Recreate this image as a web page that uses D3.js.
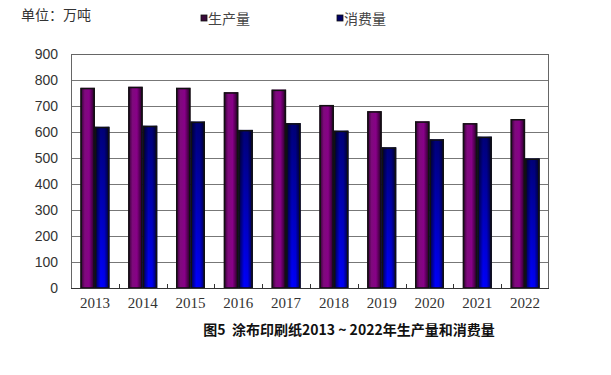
<!DOCTYPE html>
<html>
<head>
<meta charset="utf-8">
<script src="https://cdn.jsdelivr.net/npm/d3@7"></script>
<style>
  body { margin: 0; background: #fff; }
  svg { display: block; }
</style>
</head>
<body>
<svg id="chart" width="611" height="375"></svg>
<script>
// data (万吨)
var years = ['2013','2014','2015','2016','2017','2018','2019','2020','2021','2022'];
var production = [770, 774, 770, 753, 763, 704, 680, 641, 634, 650];
var consumption = [620, 624, 640, 608, 634, 605, 541, 572, 582, 498];
var seriesNames = ['生产量', '消费量'];
var yTicks = [0, 100, 200, 300, 400, 500, 600, 700, 800, 900];

var svg = d3.select('#chart');
var margin = {left: 71, right: 62, top: 54, bottom: 87};
var W = 611, H = 375;

var x = d3.scaleBand().domain(years).range([margin.left, W - margin.right]);
var y = d3.scaleLinear().domain([0, 900]).range([H - margin.bottom, margin.top]);

var defs = svg.append('defs');

// purple, shaded across like a tube
var gp = defs.append('linearGradient').attr('id', 'gProd');
gp.append('stop').attr('offset', '0%').attr('stop-color', '#2a002a');
gp.append('stop').attr('offset', '30%').attr('stop-color', '#7e0a7c');
gp.append('stop').attr('offset', '60%').attr('stop-color', '#880088');
gp.append('stop').attr('offset', '100%').attr('stop-color', '#1a001a');

// blue, dark at top and bright at the foot
var gc = defs.append('linearGradient').attr('id', 'gCons')
  .attr('x1', 0).attr('y1', 0).attr('x2', 0).attr('y2', 1);
gc.append('stop').attr('offset', '0%').attr('stop-color', '#000078');
gc.append('stop').attr('offset', '100%').attr('stop-color', '#0000ff');

var gs = defs.append('linearGradient').attr('id', 'gShade');
gs.append('stop').attr('offset', '0%').attr('stop-color', '#000').attr('stop-opacity', 0.75);
gs.append('stop').attr('offset', '40%').attr('stop-color', '#000').attr('stop-opacity', 0);
gs.append('stop').attr('offset', '65%').attr('stop-color', '#000').attr('stop-opacity', 0.05);
gs.append('stop').attr('offset', '100%').attr('stop-color', '#000').attr('stop-opacity', 0.75);

// grid lines
svg.append('g').selectAll('line').data(yTicks.slice(1)).join('line')
  .attr('x1', margin.left).attr('x2', W - margin.right)
  .attr('y1', function(d){ return y(d); }).attr('y2', function(d){ return y(d); })
  .attr('stroke', '#777').attr('stroke-width', 1).attr('shape-rendering', 'crispEdges');

// y axis labels
var yAxis = d3.axisLeft(y).tickValues(yTicks).tickSize(0).tickPadding(13);
var ya = svg.append('g').attr('transform', 'translate(' + margin.left + ',0)').call(yAxis);
ya.select('.domain').remove();
ya.selectAll('text').attr('font-family', 'Liberation Sans, Arial, sans-serif')
  .attr('font-size', 14).attr('fill', '#333');

// bars
var inner = d3.scaleBand().domain([0, 1]).range([0, 29]);
var groups = svg.append('g').selectAll('g').data(years).join('g')
  .attr('transform', function(d){ return 'translate(' + (x(d) + x.bandwidth() / 2 - 14.5) + ',0)'; });

[production, consumption].forEach(function(vals, s){
  groups.append('rect')
    .attr('x', inner(s)).attr('width', inner.bandwidth())
    .attr('y', function(d, i){ return y(vals[i]); })
    .attr('height', function(d, i){ return y(0) - y(vals[i]); })
    .attr('fill', s === 0 ? 'url(#gProd)' : 'url(#gCons)');
  if (s === 1) {
    groups.append('rect')
      .attr('x', inner(s)).attr('width', inner.bandwidth())
      .attr('y', function(d, i){ return y(vals[i]); })
      .attr('height', function(d, i){ return y(0) - y(vals[i]); })
      .attr('fill', 'url(#gShade)');
  }
  groups.append('rect')
    .attr('x', inner(s) + 0.75).attr('width', inner.bandwidth() - 1.5)
    .attr('y', function(d, i){ return y(vals[i]) + 0.75; })
    .attr('height', function(d, i){ return y(0) - y(vals[i]) - 0.75; })
    .attr('fill', 'none').attr('stroke', '#111').attr('stroke-width', 1.5);
});

// plot frame
svg.append('rect')
  .attr('x', margin.left + 0.5).attr('y', y(900) + 0.5)
  .attr('width', W - margin.right - margin.left - 1).attr('height', y(0) - y(900))
  .attr('fill', 'none').attr('stroke', '#666').attr('stroke-width', 1);
svg.append('line')
  .attr('x1', margin.left).attr('x2', W - margin.right)
  .attr('y1', y(0) + 0.5).attr('y2', y(0) + 0.5)
  .attr('stroke', '#333');

// small ticks between categories on the base line
svg.append('g').selectAll('line').data(years.slice(1)).join('line')
  .attr('x1', function(d){ return Math.round(x(d)) + 0.5; })
  .attr('x2', function(d){ return Math.round(x(d)) + 0.5; })
  .attr('y1', y(0)).attr('y2', y(0) - 4)
  .attr('stroke', '#333');

// x labels
var xAxis = d3.axisBottom(x).tickSize(0).tickPadding(9);
var xa = svg.append('g').attr('transform', 'translate(0,' + y(0) + ')').call(xAxis);
xa.select('.domain').remove();
xa.selectAll('text').attr('font-family', 'Liberation Serif, Times New Roman, serif')
  .attr('font-size', 15).attr('fill', '#333');

// unit label
svg.append('text').attr('x', 21).attr('y', 20)
  .attr('font-family', 'Noto Sans CJK SC, sans-serif').attr('font-size', 14).attr('fill', '#333')
  .text('单位：万吨');

// legend
var legendX = [201, 337];
var legendCol = ['#3a0a3a', '#000066'];
var lg = svg.append('g').selectAll('g').data(seriesNames).join('g')
  .attr('transform', function(d, i){ return 'translate(' + legendX[i] + ',0)'; });
lg.append('rect').attr('x', 0).attr('y', 15).attr('width', 6).attr('height', 6)
  .attr('fill', function(d, i){ return legendCol[i]; }).attr('stroke', '#111').attr('stroke-width', 0.8);
lg.append('text').attr('x', 7).attr('y', 24)
  .attr('font-family', 'Noto Sans CJK SC, sans-serif').attr('font-size', 14).attr('fill', '#444')
  .text(function(d){ return d; });

// caption
svg.append('text').attr('x', 349).attr('y', 335).attr('text-anchor', 'middle')
  .attr('font-family', 'Noto Sans CJK SC, sans-serif').attr('font-size', 14)
  .attr('font-weight', 'bold').attr('fill', '#111')
  .style('white-space', 'pre')
  .text('图5  涂布印刷纸2013 ~ 2022年生产量和消费量');
</script>
</body>
</html>
